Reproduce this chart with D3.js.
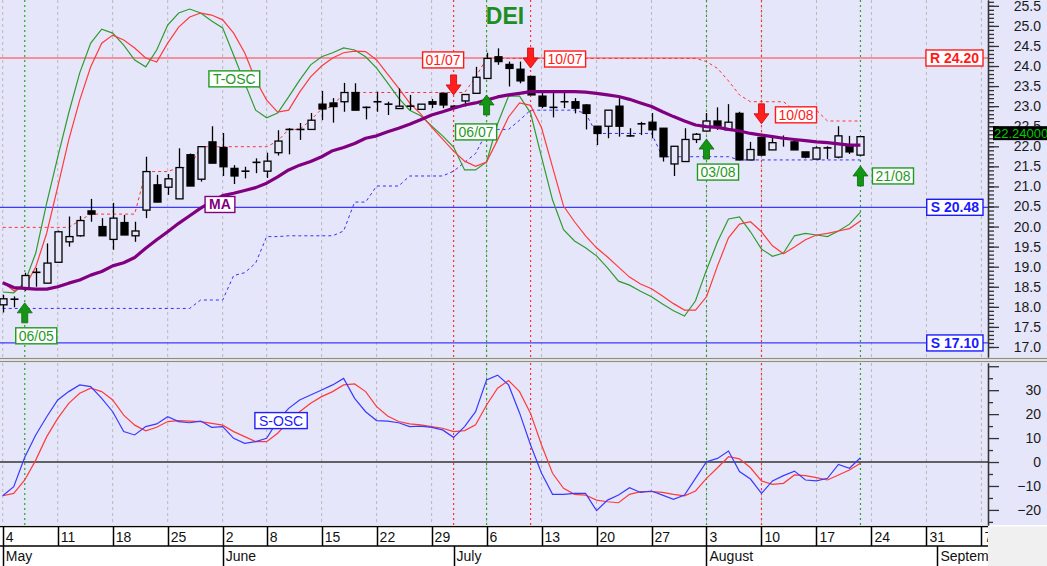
<!DOCTYPE html>
<html>
<head>
<meta charset="utf-8">
<title>DEI</title>
<script src="https://cdnjs.cloudflare.com/ajax/libs/d3/7.8.5/d3.min.js"></script>
<style>
  html, body { margin: 0; padding: 0; background: #fff; }
  svg { display: block; font-family: "Liberation Sans", Arial, sans-serif; }
</style>
</head>
<body>
<svg id="chart" width="1047" height="566"></svg>
<script>
"use strict";

/* ── Sessions ── */
const firstSession = "2015-05-04";
const lastSession  = "2015-09-08";
const holidays     = ["2015-06-01"];

/* ── Tick labels ── */
const weekTicks  = ["2015-05-04","2015-05-11","2015-05-18","2015-05-25","2015-06-02","2015-06-08",
                    "2015-06-15","2015-06-22","2015-06-29","2015-07-06","2015-07-13","2015-07-20",
                    "2015-07-27","2015-08-03","2015-08-10","2015-08-17","2015-08-24","2015-08-31","2015-09-07"];
const monthTicks = ["2015-05-04","2015-06-02","2015-07-01","2015-08-03","2015-09-01"];
const monthNames = ["May","June","July","August","September"];
const priceTicks = [17,17.5,18,18.5,19,19.5,20,20.5,21,21.5,22,22.5,23,23.5,24,24.5,25,25.5];
const oscTicks   = [-20,-10,0,10,20,30];
const oscMajor   = [-20,-10,0,10,20,30,40];
const oscMinor   = [-25,-15,-5,5,15,25,35];

/* ── Daily OHLC (from 4 May) ── */
const open = [18.05,18.19,18.46,18.84,18.59,19.11,19.62,19.77,20.39,20.00,
  19.68,20.10,19.77,20.41,21.04,20.98,20.69,21.79,21.18,22.11,
  21.97,21.45,21.38,21.60,21.38,21.84,22.42,22.42,22.42,23.05,
  23.08,23.11,23.34,22.97,23.11,23.05,22.94,23.00,22.92,23.11,
  23.32,23.00,23.13,23.32,23.69,24.23,24.04,23.92,23.74,23.25,
  22.97,23.11,23.11,23.03,22.50,22.50,23.00,22.26,22.56,22.60,
  22.45,21.56,21.62,22.17,22.38,22.63,22.41,22.82,21.66,22.22,
  21.91,22.20,22.11,21.86,21.68,21.96,21.73,22.03,21.78];
const high = [18.30,18.26,18.85,18.97,19.58,19.90,20.25,20.26,20.69,20.21,
  20.59,20.29,20.12,21.74,21.29,21.31,21.95,21.82,21.99,22.50,
  22.33,21.53,21.49,21.70,21.84,22.40,22.45,22.58,22.83,23.38,
  23.20,23.58,23.57,22.99,23.36,23.11,23.44,23.28,23.05,23.18,
  23.32,23.02,23.29,23.98,24.33,24.44,24.11,24.11,23.74,23.36,
  23.36,23.36,23.20,23.05,22.50,22.90,23.20,22.45,22.61,22.83,
  22.45,22.00,22.45,22.33,22.83,22.97,23.05,22.86,22.11,22.22,
  22.22,22.27,22.20,21.86,22.00,22.00,22.50,22.26,22.24];
const low = [17.86,17.99,18.40,18.50,18.59,19.10,19.50,19.75,20.12,19.77,
  19.42,19.79,19.62,20.21,20.61,20.79,20.69,21.01,21.12,21.58,
  21.26,21.06,21.20,21.33,21.21,21.77,21.80,22.16,22.42,22.65,
  22.59,22.86,22.90,22.67,22.86,22.78,22.94,22.90,22.92,22.95,
  22.95,22.95,22.99,23.32,23.69,24.03,23.49,23.57,23.28,22.95,
  22.72,22.95,22.82,22.42,22.03,22.20,22.24,22.24,22.28,22.20,
  21.62,21.26,21.62,22.08,22.38,22.41,22.41,21.66,21.66,21.78,
  21.91,21.99,21.91,21.70,21.68,21.68,21.70,21.81,21.78];
const close = [18.20,18.19,18.78,18.86,19.09,19.87,19.75,20.15,20.31,19.77,
  20.21,19.79,19.89,21.37,20.61,21.19,21.47,21.01,21.99,21.58,
  21.49,21.26,21.38,21.60,21.63,22.13,22.42,22.42,22.65,22.93,
  22.99,23.34,22.90,22.97,23.11,23.05,23.00,23.00,23.05,23.05,
  23.03,22.97,23.29,23.72,24.19,24.11,23.94,23.63,23.28,23.00,
  22.97,23.11,22.95,22.82,22.32,22.90,22.50,22.26,22.56,22.41,
  21.74,22.00,22.17,22.30,22.63,22.50,22.60,21.66,21.92,21.78,
  22.09,22.20,21.91,21.73,21.96,21.96,22.26,21.86,22.24];

/* ── Moving average ── */
const ma = [18.60,18.48,18.46,18.44,18.44,18.50,18.59,18.67,18.79,18.88,
  19.02,19.10,19.23,19.46,19.67,19.87,20.08,20.27,20.46,20.62,
  20.77,20.83,20.90,20.97,21.08,21.24,21.41,21.53,21.62,21.74,
  21.89,21.97,22.07,22.20,22.26,22.36,22.45,22.55,22.66,22.78,
  22.86,22.95,23.03,23.08,23.15,23.23,23.28,23.32,23.36,23.36,
  23.36,23.36,23.36,23.35,23.32,23.28,23.24,23.17,23.08,22.99,
  22.86,22.74,22.63,22.53,22.49,22.47,22.42,22.38,22.32,22.28,
  22.24,22.20,22.17,22.14,22.11,22.09,22.06,22.03,22.03];

/* ── Upper / lower trailing channel ── */
const upperStop = [19.98,19.98,19.98,19.98,19.98,19.98,19.98,20.15,20.31,20.31,
  20.31,20.31,20.31,21.37,21.37,21.37,21.47,21.47,21.99,21.99,
  21.99,21.99,21.99,21.99,21.99,22.13,22.42,22.42,22.65,22.93,
  22.99,23.34,23.34,23.34,23.34,23.34,23.34,23.34,23.34,23.34,
  23.34,23.34,23.34,23.72,24.19,24.19,24.19,24.19,24.19,24.19,
  24.19,24.19,24.19,24.19,24.19,24.19,24.19,24.19,24.19,24.19,
  24.19,24.19,24.19,24.19,24.11,23.94,23.63,23.28,23.11,23.11,
  23.11,23.11,22.90,22.90,22.90,22.63,22.63,22.63,22.63];
const lowerStop = [17.96,17.96,17.96,17.96,17.96,17.96,17.96,17.96,17.96,17.96,
  17.96,17.96,17.96,17.96,17.96,17.96,17.96,17.96,18.17,18.17,
  18.17,18.78,18.85,19.09,19.75,19.75,19.77,19.77,19.77,19.77,
  19.77,19.89,20.61,20.61,21.01,21.01,21.01,21.26,21.26,21.26,
  21.26,21.38,21.60,21.82,22.35,22.42,22.42,22.65,22.90,22.90,
  22.90,22.90,22.90,22.82,22.32,22.32,22.32,22.32,22.32,22.32,
  21.74,21.74,21.74,21.74,21.74,21.74,21.74,21.66,21.66,21.66,
  21.66,21.66,21.66,21.66,21.66,21.66,21.66,21.66,21.66];

/* ── T-OSC (drawn on the price scale) ── */
const tOscFast = [18.37,18.35,18.60,19.34,20.59,21.73,22.83,23.83,24.57,24.92,
  24.82,24.52,24.15,23.98,24.40,25.02,25.32,25.42,25.32,25.12,
  24.95,24.27,23.58,22.90,22.71,22.83,23.23,23.65,24.03,24.23,
  24.33,24.45,24.40,24.23,23.95,23.58,23.20,22.90,22.76,22.51,
  22.26,21.98,21.41,21.41,21.61,22.56,23.25,23.25,22.83,21.73,
  20.66,19.92,19.64,19.47,19.27,18.97,18.64,18.54,18.39,18.25,
  18.07,17.90,17.77,18.15,18.92,19.62,20.19,20.24,19.87,19.44,
  19.26,19.34,19.77,19.83,19.79,19.75,19.89,20.06,20.36];
const tOscSlow = [18.62,18.40,18.50,18.99,19.84,20.99,22.16,23.15,23.98,24.57,
  24.77,24.65,24.45,24.20,24.10,24.57,24.97,25.22,25.32,25.27,
  25.15,24.82,24.33,23.65,23.15,22.85,22.90,23.35,23.73,24.00,
  24.20,24.33,24.37,24.36,24.15,23.80,23.45,23.08,22.81,22.48,
  22.18,21.88,21.63,21.50,21.61,22.16,22.73,23.08,23.02,22.46,
  21.48,20.51,20.12,19.77,19.47,19.24,18.99,18.74,18.57,18.45,
  18.27,18.08,17.92,17.92,18.25,19.02,19.72,20.06,20.12,19.87,
  19.52,19.32,19.49,19.67,19.79,19.83,19.89,19.95,20.14];

/* ── S-OSC ── */
const sOscFast = [-14.1,-10.3,2.0,11.3,18.9,25.9,29.4,32.2,31.5,26.6,
  21.0,12.7,11.3,14.8,15.9,18.9,16.9,16.4,17.1,14.5,
  14.8,9.9,7.8,8.5,9.9,17.3,22.4,25.9,28.0,30.1,
  32.2,34.9,26.6,21.0,17.3,17.1,16.4,14.8,15.0,14.5,
  13.4,10.3,14.8,21.0,34.3,36.3,32.2,20.5,7.1,-4.7,
  -13.5,-13.5,-13.1,-13.1,-20.3,-15.9,-13.8,-10.7,-12.7,-12.1,
  -13.8,-15.6,-13.8,-6.8,0.1,1.5,4.6,-4.0,-7.1,-13.1,
  -7.9,-5.7,-3.8,-7.5,-7.9,-6.8,-1.0,-2.6,1.8];
const sOscSlow = [-14.1,-13.1,-7.5,0.8,10.6,18.2,24.5,28.7,30.8,29.4,
  25.9,19.6,15.4,13.0,14.5,16.9,17.3,17.1,16.9,16.1,
  15.4,12.7,10.6,8.5,8.5,12.0,16.9,21.0,24.5,27.3,
  29.4,32.2,32.6,29.4,23.1,19.2,16.9,15.9,15.5,14.8,
  14.1,12.7,13.1,15.5,23.8,30.8,34.0,29.4,20.3,7.1,
  -4.7,-11.0,-13.5,-13.8,-15.9,-16.6,-17.0,-13.5,-12.4,-12.4,
  -12.7,-13.5,-14.1,-12.1,-6.8,-2.4,2.2,1.3,-2.4,-7.9,
  -9.3,-8.9,-5.4,-5.7,-6.5,-7.5,-5.4,-3.3,-0.5];

/* ── Support / resistance ── */
const levels = [
  { label: "R 24.20", value: 24.20, kind: "R" },
  { label: "S 20.48", value: 20.48, kind: "S" },
  { label: "S 17.10", value: 17.10, kind: "S" }
];

/* ── Signals ── */
const signalDates  = ["2015-05-06","2015-07-01","2015-07-06","2015-07-10","2015-08-03","2015-08-10","2015-08-21"];
const signalTypes  = ["buy","sell","buy","sell","buy","sell","buy"];
const signalLevels = [18.10, 23.28, 23.28, 23.95, 22.18, 22.56, 21.51];
const signalPlace  = ["below","above","belowLeft","right","below","right","right"];

const lastPrice = 22.24;

/* ── Layout ── */
const W = 1047, H = 566;
const plotRight = 988;
const pricePanel = { top: 0, bottom: 357 };
const oscPanel   = { top: 363, bottom: 525 };
const dateRows   = { top: 526.5, mid: 546, bottom: 566 };
const BG = "#E6E6FA";
const BUY = "#1F9A1F", SELL = "#FF1A1A";

const svg = d3.select("#chart");

/* ── Session calendar ── */
const parse = d3.utcParse("%Y-%m-%d");
const key   = d3.utcFormat("%Y-%m-%d");
const sessions = d3.utcDay
  .range(parse(firstSession), d3.utcDay.offset(parse(lastSession), 1))
  .filter(d => d.getUTCDay() % 6 !== 0 && !holidays.includes(key(d)));
const sessionIndex = new Map(sessions.map((d, i) => [key(d), i]));

/* ── Scales ── */
const x  = d3.scaleLinear().domain([-0.25, 89.6]).range([0, plotRight]);
const yP = d3.scaleLinear().domain([16.75, 25.645]).range([pricePanel.bottom, pricePanel.top]);
const yO = d3.scaleLinear().domain([-26.3, 41.35]).range([oscPanel.bottom, oscPanel.top]);

/* ── Backgrounds ── */
svg.append("rect").attr("x", 0).attr("y", pricePanel.top)
  .attr("width", W).attr("height", pricePanel.bottom - pricePanel.top).attr("fill", BG);
svg.append("rect").attr("x", 0).attr("y", oscPanel.top)
  .attr("width", W).attr("height", oscPanel.bottom - oscPanel.top).attr("fill", BG);
[358.5, 361.5].forEach(yy => svg.append("line")
  .attr("x1", 0).attr("x2", W).attr("y1", yy).attr("y2", yy)
  .attr("stroke", "#8c8c8c").attr("stroke-width", 1.3));

/* ── Clips ── */
const defs = svg.append("defs");
defs.append("clipPath").attr("id", "clip-price").append("rect")
  .attr("x", 0).attr("y", pricePanel.top).attr("width", plotRight)
  .attr("height", pricePanel.bottom - pricePanel.top);
defs.append("clipPath").attr("id", "clip-osc").append("rect")
  .attr("x", 0).attr("y", oscPanel.top).attr("width", plotRight)
  .attr("height", oscPanel.bottom - oscPanel.top);

const gP = svg.append("g").attr("clip-path", "url(#clip-price)");
const gO = svg.append("g").attr("clip-path", "url(#clip-osc)");
const panels = [[gP, pricePanel], [gO, oscPanel]];

/* ── Weekly grid ── */
const weekIdx = weekTicks.map(d => sessionIndex.get(d));
panels.forEach(([g, p]) => {
  g.selectAll(null).data(weekIdx).join("line")
    .attr("x1", d => x(d)).attr("x2", d => x(d))
    .attr("y1", p.top).attr("y2", p.bottom)
    .attr("stroke", "#b8b8b8").attr("stroke-width", 1).attr("stroke-dasharray", "3,3");
});

/* ── Signal verticals ── */
const signals = signalDates.map((d, k) => ({
  date: d, i: sessionIndex.get(d), type: signalTypes[k], level: signalLevels[k], place: signalPlace[k]
}));
panels.forEach(([g, p]) => {
  g.selectAll(null).data(signals).join("line")
    .attr("x1", d => x(d.i)).attr("x2", d => x(d.i))
    .attr("y1", p.top).attr("y2", p.bottom)
    .attr("stroke", d => d.type === "buy" ? "#2aa52a" : "#ff3030")
    .attr("stroke-width", 1.2).attr("stroke-dasharray", "2,3");
});

/* ── Support / resistance lines ── */
gP.selectAll(".level").data(levels).join("line")
  .attr("class", "level")
  .attr("x1", 0).attr("x2", plotRight)
  .attr("y1", d => yP(d.value)).attr("y2", d => yP(d.value))
  .attr("stroke", d => d.kind === "R" ? "#ff3b3b" : "#3b3bff").attr("stroke-width", 1.2);

/* ── Line helpers ── */
const lineP = d3.line().x((_, i) => x(i)).y(v => yP(v));
const lineO = d3.line().x((_, i) => x(i)).y(v => yO(v));

gP.append("path").datum(upperStop).attr("d", lineP)
  .attr("fill", "none").attr("stroke", "#ff3030").attr("stroke-width", 1).attr("stroke-dasharray", "3,3");
gP.append("path").datum(lowerStop).attr("d", lineP)
  .attr("fill", "none").attr("stroke", "#3030ff").attr("stroke-width", 1).attr("stroke-dasharray", "3,3");

gP.append("path").datum(tOscFast).attr("d", lineP)
  .attr("fill", "none").attr("stroke", "#2f9b2f").attr("stroke-width", 1.2);
gP.append("path").datum(tOscSlow).attr("d", lineP)
  .attr("fill", "none").attr("stroke", "#ff3a3a").attr("stroke-width", 1.2);

/* ── Candles ── */
const bars = close.map((c, i) => ({ i, o: open[i], h: high[i], l: low[i], c }));
const bw = 7;
const cx = i => Math.round(x(i)) + 0.5;

gP.selectAll(".wick").data(bars).join("line")
  .attr("class", "wick")
  .attr("x1", d => cx(d.i)).attr("x2", d => cx(d.i))
  .attr("y1", d => yP(d.h)).attr("y2", d => yP(d.l))
  .attr("stroke", "#000").attr("stroke-width", 1.3);

const isDoji = d => Math.abs(d.o - d.c) < 0.025;

gP.selectAll(".body").data(bars.filter(d => !isDoji(d))).join("rect")
  .attr("class", "body")
  .attr("x", d => cx(d.i) - bw / 2)
  .attr("y", d => yP(Math.max(d.o, d.c)))
  .attr("width", bw)
  .attr("height", d => Math.max(1, Math.abs(yP(d.o) - yP(d.c))))
  .attr("fill", d => d.c >= d.o ? BG : "#000")
  .attr("stroke", "#000").attr("stroke-width", 1.3);

gP.selectAll(".doji").data(bars.filter(isDoji)).join("line")
  .attr("class", "doji")
  .attr("x1", d => cx(d.i) - bw / 2 - 0.5).attr("x2", d => cx(d.i) + bw / 2 + 0.5)
  .attr("y1", d => yP(d.c)).attr("y2", d => yP(d.c))
  .attr("stroke", "#000").attr("stroke-width", 1.6);

/* ── Moving average ── */
gP.append("path").datum(ma).attr("d", lineP)
  .attr("fill", "none").attr("stroke", "#800080").attr("stroke-width", 3.2)
  .attr("stroke-linejoin", "round");

/* ── S-OSC panel ── */
gO.append("line").attr("x1", 0).attr("x2", plotRight)
  .attr("y1", yO(0)).attr("y2", yO(0)).attr("stroke", "#333").attr("stroke-width", 1.3);
gO.append("path").datum(sOscSlow).attr("d", lineO)
  .attr("fill", "none").attr("stroke", "#ff3a3a").attr("stroke-width", 1.2);
gO.append("path").datum(sOscFast).attr("d", lineO)
  .attr("fill", "none").attr("stroke", "#3a3aff").attr("stroke-width", 1.2);

/* ── Tag boxes ── */
function tagBox(parent, opts) {
  const g = parent.append("g");
  const rect = g.append("rect");
  const text = g.append("text")
    .attr("font-size", "14px")
    .attr("font-weight", opts.bold ? "bold" : "normal")
    .attr("fill", opts.colour)
    .text(opts.text);
  const pad = opts.pad ?? 4;
  const w = text.node().getComputedTextLength() + pad * 2;
  const h = 16;
  const left = opts.right !== undefined ? opts.right - w : opts.left;
  const top = opts.cy !== undefined ? opts.cy - h / 2 : opts.top;
  rect.attr("x", left).attr("y", top).attr("width", w).attr("height", h)
    .attr("fill", "#fff").attr("stroke", opts.border || opts.colour).attr("stroke-width", 1.4);
  text.attr("x", left + pad).attr("y", top + 13);
  return g;
}

/* ── Signal arrows & labels ── */
function arrowPath(type) {
  const s = type === "buy" ? 1 : -1;
  return `M0,0 L7.5,${10 * s} L3,${10 * s} L3,${20 * s} L-3,${20 * s} L-3,${10 * s} L-7.5,${10 * s} Z`;
}
const fmtSig = d3.utcFormat("%d/%m");
const placement = {
  below:     { dx: -9,  dy: 25 },
  belowLeft: { dx: -31, dy: 29 },
  above:     { dx: -31, dy: -43 }
};
signals.forEach(s => {
  const ax = x(s.i), tip = yP(s.level);
  const buy = s.type === "buy";
  svg.append("path").attr("d", arrowPath(s.type))
    .attr("transform", `translate(${ax},${tip})`)
    .attr("fill", buy ? "#149614" : "#ff1f1f")
    .attr("stroke", buy ? "#0b6b0b" : "#d00000").attr("stroke-width", 0.8);
  let pos = placement[s.place];
  if (s.place === "right") pos = buy ? { dx: 12, dy: 2 } : { dx: 14, dy: -17 };
  tagBox(svg, {
    text: fmtSig(parse(s.date)), colour: buy ? BUY : SELL, pad: 3,
    left: ax + pos.dx, top: tip + pos.dy
  });
});

/* ── Series labels ── */
tagBox(svg, { text: "T-OSC", colour: "#1F9A1F", left: x(18.75), cy: yP(23.68) });
tagBox(svg, { text: "MA", colour: "#800080", bold: true, left: x(18.4), cy: yP(20.55) });
tagBox(svg, { text: "S-OSC", colour: "#2020ff", left: x(22.93), cy: yO(17.3) });

levels.forEach(l => tagBox(svg, {
  text: l.label, bold: true, colour: l.kind === "R" ? "#ff1a1a" : "#1a1aff",
  right: 983, cy: yP(l.value)
}));

/* ── Right axes ── */
const styleAxis = g => {
  g.select(".domain").attr("stroke", "#333").attr("stroke-width", 1.3);
  g.selectAll(".tick line").attr("stroke", "#333").attr("stroke-width", 1.3);
  g.selectAll(".tick text").attr("x", 53).attr("text-anchor", "end")
    .attr("fill", "#1a1a1a").attr("font-size", "14px")
    .attr("font-family", "'Liberation Sans', Arial, sans-serif");
};
const priceMinor = d3.range(170, 257).map(v => v / 10);
svg.append("g").attr("transform", `translate(${plotRight},0)`)
  .call(d3.axisRight(yP).tickValues(priceMinor).tickSize(6).tickSizeOuter(0).tickFormat(""))
  .call(styleAxis);
svg.append("g").attr("transform", `translate(${plotRight},0)`)
  .call(d3.axisRight(yP).tickValues(priceTicks).tickSize(11).tickSizeOuter(0).tickFormat(d3.format(".1f")))
  .call(styleAxis);
svg.append("g").attr("transform", `translate(${plotRight},0)`)
  .call(d3.axisRight(yO).tickValues(oscMinor).tickSize(5).tickSizeOuter(0).tickFormat(""))
  .call(styleAxis);
svg.append("g").attr("transform", `translate(${plotRight},0)`)
  .call(d3.axisRight(yO).tickValues(oscMajor).tickSize(11).tickSizeOuter(0)
    .tickFormat(v => oscTicks.includes(v) ? d3.format("d")(v) : ""))
  .call(styleAxis);

/* ── Last price tag ── */
const tagY = yP(lastPrice) - 3.5;
svg.append("rect").attr("x", 993).attr("y", tagY - 7).attr("width", 56).attr("height", 14).attr("fill", "#000");
svg.append("text").attr("x", 994).attr("y", tagY + 5).attr("font-size", "13px")
  .attr("fill", "#00cc00").text(lastPrice.toFixed(5));

/* ── Date rows ── */
svg.append("rect").attr("x", 0).attr("y", dateRows.top).attr("width", plotRight)
  .attr("height", H - dateRows.top).attr("fill", "#fff");
svg.append("rect").attr("x", plotRight).attr("y", dateRows.top).attr("width", W - plotRight)
  .attr("height", H - dateRows.top).attr("fill", "#f0f0f0");

const gD = svg.append("g");
defs.append("clipPath").attr("id", "clip-dates").append("rect")
  .attr("x", 0).attr("y", dateRows.top - 1).attr("width", plotRight).attr("height", H - dateRows.top + 1);
gD.attr("clip-path", "url(#clip-dates)");

[dateRows.top, dateRows.mid].forEach(yy => gD.append("line")
  .attr("x1", 0).attr("x2", plotRight).attr("y1", yy).attr("y2", yy)
  .attr("stroke", "#000").attr("stroke-width", 1.5));

const fmtDay = d3.utcFormat("%-d");
gD.selectAll(".wk").data(weekTicks).join("line")
  .attr("x1", d => Math.round(x(sessionIndex.get(d))) + 0.5)
  .attr("x2", d => Math.round(x(sessionIndex.get(d))) + 0.5)
  .attr("y1", dateRows.top).attr("y2", dateRows.mid)
  .attr("stroke", "#000").attr("stroke-width", 1.5);
gD.selectAll(".wkt").data(weekTicks).join("text")
  .attr("x", d => x(sessionIndex.get(d)) + 3).attr("y", 541.5)
  .attr("font-size", "14px").attr("fill", "#111")
  .text(d => fmtDay(parse(d)));

gD.selectAll(".mo").data(monthTicks).join("line")
  .attr("x1", d => Math.round(x(sessionIndex.get(d))) + 0.5)
  .attr("x2", d => Math.round(x(sessionIndex.get(d))) + 0.5)
  .attr("y1", dateRows.mid).attr("y2", dateRows.bottom)
  .attr("stroke", "#000").attr("stroke-width", 1.5);
gD.selectAll(".mot").data(monthTicks).join("text")
  .attr("x", d => x(sessionIndex.get(d)) + 3).attr("y", 561)
  .attr("font-size", "14px").attr("fill", "#111")
  .text((_, k) => monthNames[k]);

/* ── Title ── */
svg.append("text").attr("x", 505).attr("y", 24).attr("text-anchor", "middle")
  .attr("font-size", "23px").attr("font-weight", "bold").attr("fill", "#1e8e1e")
  .text("DEI");
</script>
</body>
</html>
